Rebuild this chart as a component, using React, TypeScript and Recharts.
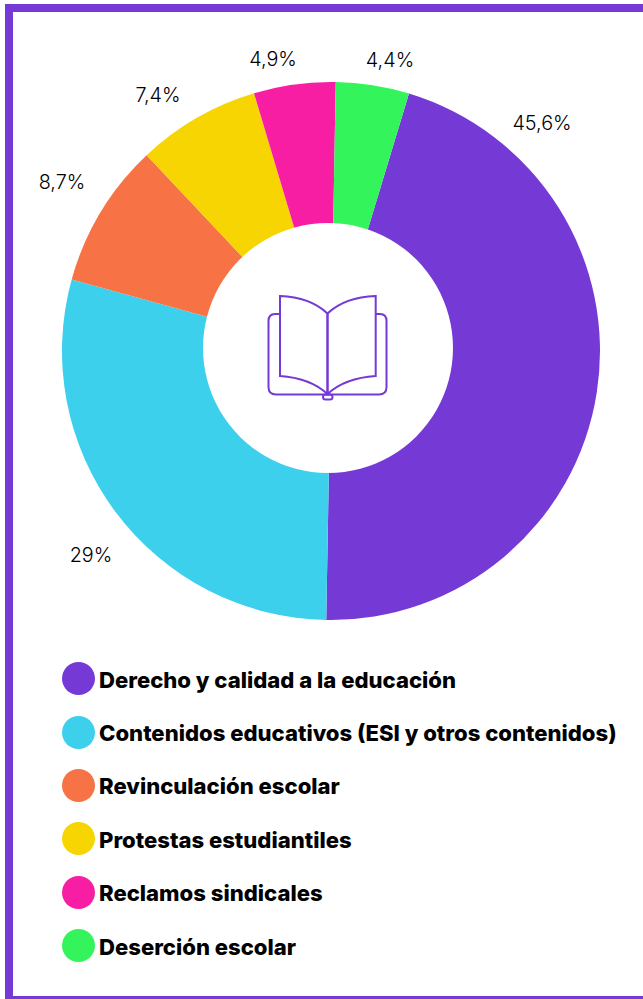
import React from 'react';
import { PieChart, Pie, Cell, Legend } from 'recharts';

const categories = [
  'Derecho y calidad a la educación',
  'Contenidos educativos (ESI y otros contenidos)',
  'Revinculación escolar',
  'Protestas estudiantiles',
  'Reclamos sindicales',
  'Deserción escolar',
];
const values = [45.6, 29, 8.7, 7.4, 4.9, 4.4];
const valueLabels = ['45,6%', '29%', '8,7%', '7,4%', '4,9%', '4,4%'];
const colors = ['#7539D6', '#3DD0EC', '#F77245', '#F6D503', '#F81EA4', '#34F45C'];

const data = categories.map((name, i) => ({ name, value: values[i] }));
const hole = [{ name: 'hole', value: 1 }];

const PURPLE = '#7539D6';
// labels sit by hand in the original, not on the slice midpoints
const labelSpots = [
  [542, 123],
  [91, 555],
  [62, 182],
  [158, 95],
  [273, 59],
  [390, 60],
];

const renderLabel = ({ index }: { index: number }) => (
  <text
    x={labelSpots[index][0]}
    y={labelSpots[index][1]}
    textAnchor="middle"
    dominantBaseline="central"
    fontFamily="Inter, sans-serif"
    fontWeight={300}
    fontSize={19.8}
    fill="#000"
  >
    {valueLabels[index]}
  </text>
);

const LegendList = () => (
  <div>
    {categories.map((name, i) => (
      <div key={name} style={{ display: 'flex', alignItems: 'center', height: 53.4 }}>
        <span
          style={{ width: 33, height: 33, borderRadius: '50%', background: colors[i], marginRight: 4, flex: 'none' }}
        />
        <span
          style={{
            fontFamily: 'Inter, sans-serif',
            fontWeight: 800,
            fontSize: 22.1,
            color: '#000',
            whiteSpace: 'nowrap',
            position: 'relative',
            top: 1,
          }}
        >
          {name}
        </span>
      </div>
    ))}
  </div>
);

const BookIcon = () => (
  <svg
    width={150}
    height={130}
    viewBox="250 280 150 130"
    style={{ position: 'absolute', left: 250, top: 280 }}
    fill="none"
    stroke={PURPLE}
    strokeWidth={2}
  >
    <path d="M280 314 H275 Q268.5 314 268.5 321 V387 Q268.5 394.5 276 394.5 H379 Q386.5 394.5 386.5 387 V321 Q386.5 314 380 314 H376" />
    <path d="M280 296 Q310 297 327.5 313.5 V394 Q310 378 280 376 Z" />
    <path d="M375.7 296 Q345 297 327.5 313.5 V394 Q345 378 375.7 376 Z" />
    <rect x={323} y={394.5} width={9.5} height={5} rx={2.5} />
  </svg>
);

export default function App() {
  return (
    <div style={{ position: 'absolute', left: 0, top: 0, width: 643, height: 999, overflow: 'hidden', background: '#fff' }}>
      <div
        style={{
          position: 'absolute',
          left: 5,
          top: 4,
          width: 660,
          height: 1000,
          boxSizing: 'border-box',
          border: `8.5px solid ${PURPLE}`,
          borderBottomWidth: 8,
        }}
      />
      <PieChart width={643} height={999} margin={{ top: 0, right: 0, bottom: 0, left: 0 }} style={{ position: 'absolute', left: 0, top: 0 }}>
        <Pie
          data={data}
          dataKey="value"
          nameKey="name"
          cx={331}
          cy={351}
          innerRadius={0}
          outerRadius={269}
          startAngle={73.15}
          endAngle={-286.85}
          stroke="none"
          label={renderLabel}
          labelLine={false}
          isAnimationActive={false}
        >
          {categories.map((name, i) => (
            <Cell key={name} fill={colors[i]} />
          ))}
        </Pie>
        <Pie
          data={hole}
          dataKey="value"
          cx={328}
          cy={348}
          outerRadius={125}
          stroke="none"
          fill="#fff"
          legendType="none"
          isAnimationActive={false}
        />
        <Legend
          content={<LegendList />}
          wrapperStyle={{ position: 'absolute', left: 62, top: 652, width: 575, bottom: 'auto' }}
        />
      </PieChart>
      <BookIcon />
    </div>
  );
}
